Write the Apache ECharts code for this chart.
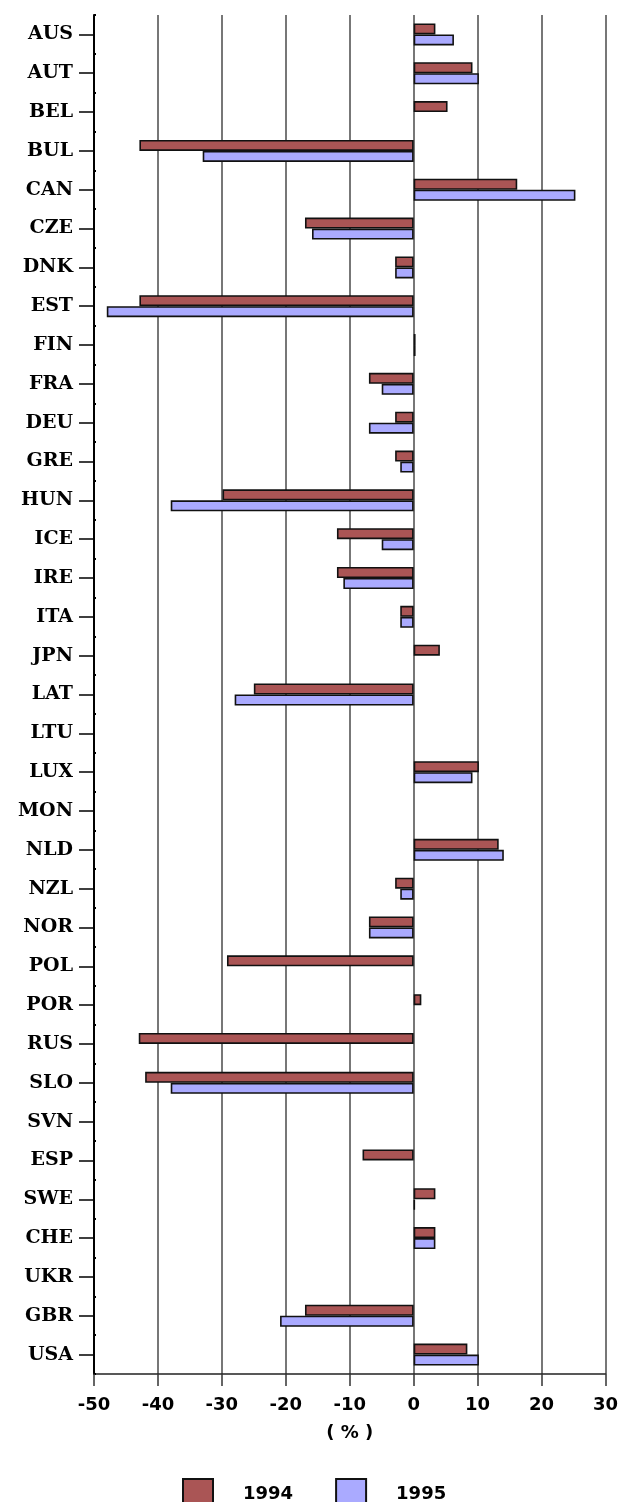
<!DOCTYPE html>
<html>
<head>
<meta charset="utf-8">
<script src="https://cdn.jsdelivr.net/npm/echarts@6/dist/echarts.min.js"></script>
<style>
  html, body { margin: 0; padding: 0; background: #ffffff; }
  #chart { width: 621px; height: 1502px; }
</style>
</head>
<body>
<div id="chart"></div>
<script>
const categories = ['AUS','AUT','BEL','BUL','CAN','CZE','DNK','EST','FIN','FRA','DEU','GRE','HUN','ICE','IRE','ITA','JPN','LAT','LTU','LUX','MON','NLD','NZL','NOR','POL','POR','RUS','SLO','SVN','ESP','SWE','CHE','UKR','GBR','USA'];
const values1994 = [3.4, 9.2, 5.3, -42.9, 16.2, -17.0, -2.9, -42.9, 0.3, -7.0, -2.9, -2.9, -29.9, -12.0, -12.0, -2.1, 4.1, -25.0, null, 10.2, null, 13.3, -2.9, -7.0, -29.2, 1.2, -43.0, -42.0, null, -8.0, 3.4, 3.4, null, -17.0, 8.4];
const values1995 = [6.3, 10.2, null, -33.0, 25.3, -15.9, -2.9, -48.0, 0.3, -5.0, -7.0, -2.1, -38.0, -5.0, -11.0, -2.1, null, -28.0, null, 9.2, null, 14.1, -2.1, -7.0, null, null, null, -38.0, null, null, 0.2, 3.4, null, -20.9, 10.2];
const xTicks = { min: -50, max: 30, interval: 10 };
const seriesNames = ['1994', '1995'];

const chart = echarts.init(document.getElementById('chart'), null, { renderer: 'canvas' });
chart.setOption({
  backgroundColor: '#ffffff',
  animation: false,
  grid: { left: 94, right: 14, top: 15, bottom: 128, containLabel: false },
  legend: {
    data: seriesNames,
    left: 182,
    top: 1478,
    padding: 0,
    itemWidth: 30,
    itemHeight: 30,
    itemGap: 42,
    icon: 'rect',
    textStyle: { fontFamily: 'DejaVu Sans', fontWeight: 'bold', fontSize: 18, color: '#000', padding: [0, 0, 0, 25] }
  },
  xAxis: {
    type: 'value',
    min: xTicks.min, max: xTicks.max, interval: xTicks.interval,
    name: '( % )',
    nameLocation: 'middle',
    nameGap: 50,
    nameTextStyle: { fontFamily: 'DejaVu Sans', fontWeight: 'bold', fontSize: 18, color: '#000' },
    axisLine: { show: true, onZero: false, lineStyle: { color: '#222', width: 1.5 } },
    axisTick: { show: true, length: 12, lineStyle: { color: '#333', width: 1.5 } },
    axisLabel: { margin: 22, fontFamily: 'DejaVu Sans', fontWeight: 'bold', fontSize: 18, color: '#000' },
    splitLine: { show: true, lineStyle: { color: '#555', width: 1.6 } }
  },
  yAxis: [{
    type: 'category',
    data: categories,
    inverse: true,
    axisLine: { show: true, onZero: false, lineStyle: { color: '#000', width: 2 } },
    axisTick: { show: true, alignWithLabel: true, length: 15, lineStyle: { color: '#000', width: 1.5 } },
    axisLabel: { margin: 21, fontFamily: 'DejaVu Serif', fontWeight: 'bold', fontSize: 19, color: '#000', interval: 0 },
    splitLine: { show: false }
  }, {
    type: 'category',
    data: categories,
    inverse: true,
    position: 'left',
    axisLine: { show: false, onZero: false },
    axisTick: { show: true, inside: true, length: 2, lineStyle: { color: '#000', width: 2 } },
    axisLabel: { show: false },
    splitLine: { show: false }
  }],
  series: [{
    name: seriesNames[0],
    type: 'bar',
    data: values1994,
    barWidth: 11,
    barGap: '0%',
    itemStyle: { color: '#aa5555', borderColor: '#111', borderWidth: 1.6 }
  }, {
    name: seriesNames[1],
    type: 'bar',
    data: values1995,
    barWidth: 11,
    barGap: '0%',
    itemStyle: { color: '#aaaaff', borderColor: '#111', borderWidth: 1.6 }
  }]
});
</script>
</body>
</html>
